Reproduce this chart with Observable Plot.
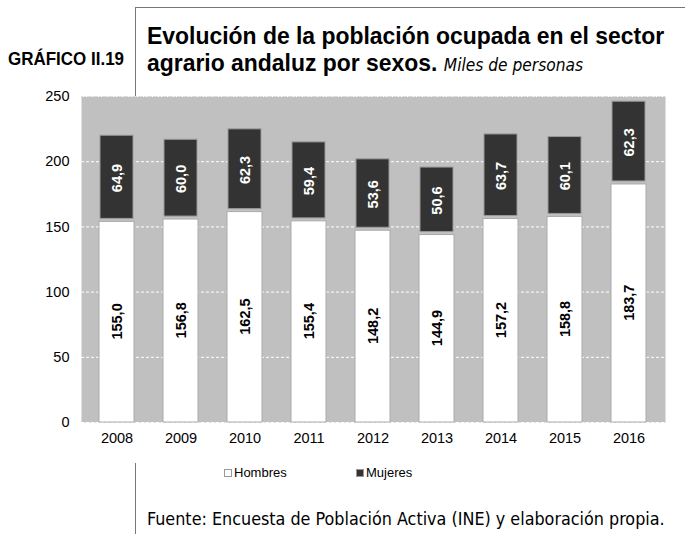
<!DOCTYPE html>
<html><head><meta charset="utf-8">
<script src="https://cdn.jsdelivr.net/npm/d3@7"></script>
<script src="https://cdn.jsdelivr.net/npm/@observablehq/plot@0.6"></script>
<style>
body{margin:0;background:#fff;width:685px;height:534px;position:relative;overflow:hidden;font-family:"Liberation Sans",Arial,sans-serif;}
#frameTop{position:absolute;left:135px;top:7px;width:560px;height:90px;border-left:1.3px solid #777;border-top:1.3px solid #777;}
#frameBot{position:absolute;left:135px;top:463px;height:71px;border-left:1.3px solid #777;}
#label{position:absolute;left:8px;top:49px;font-weight:bold;font-size:17.5px;white-space:nowrap;transform:scaleX(0.97);transform-origin:left top;}
#title{position:absolute;left:147px;top:22px;font-weight:bold;font-size:24px;line-height:27px;white-space:nowrap;color:#000;transform:scaleX(0.955);transform-origin:left top;}
#title i{font-weight:normal;font-family:"DejaVu Sans Condensed","DejaVu Sans",sans-serif;font-size:18px;}
#chart{position:absolute;left:0;top:0;}
#legend{position:absolute;top:465px;left:0;width:685px;height:18px;font-size:13px;}
#legend .item{position:absolute;display:flex;align-items:center;}
#legend .sw{display:inline-block;width:8px;height:8px;margin-right:2px;box-sizing:border-box;}
#caption{position:absolute;left:147px;top:508px;font-family:"DejaVu Sans Condensed","DejaVu Sans",sans-serif;font-size:17.8px;white-space:nowrap;}
</style></head>
<body>
<div id="frameTop"></div>
<div id="frameBot"></div>
<div id="label">GRÁFICO II.19</div>
<div id="title">Evolución de la población ocupada en el sector<br>agrario andaluz por sexos. <i>Miles de personas</i></div>
<div id="chart"></div>
<div id="legend">
  <div class="item" style="left:224px"><span class="sw" style="background:#fff;border:1px solid #999"></span>Hombres</div>
  <div class="item" style="left:356px"><span class="sw" style="background:#333;border:1px solid #999"></span>Mujeres</div>
</div>
<div id="caption">Fuente: Encuesta de Población Activa (INE) y elaboración propia.</div>
<script>
const years = ["2008","2009","2010","2011","2012","2013","2014","2015","2016"];
const hombres = [155.0,156.8,162.5,155.4,148.2,144.9,157.2,158.8,183.7];
const mujeres = [64.9,60.0,62.3,59.4,53.6,50.6,63.7,60.1,62.3];
const yTicks = [0,50,100,150,200,250];

const fmt = v => v.toFixed(1).replace(".", ",");
const rows = years.map((y,i)=>({year:y, h:hombres[i], m:mujeres[i]}));

const chart = Plot.plot({
  width: 685,
  height: 455,
  marginTop: 96,
  marginBottom: 33,
  marginLeft: 81,
  marginRight: 20,
  style:{fontFamily:"Liberation Sans, Arial, sans-serif", fontSize:"14px", background:"transparent", color:"#000"},
  x:{domain:years, paddingInner:0.48, paddingOuter:0.24, label:null},
  y:{domain:[0,250], ticks:yTicks, label:null},
  marks:[
    Plot.frame({fill:"#c0c0c0", stroke:null}),
    Plot.gridY(yTicks, {stroke:"#fff", strokeOpacity:1, strokeDasharray:"3,2", strokeWidth:1}),
    Plot.ruleY([250], {stroke:"#ddd", strokeDasharray:"2,1"}),
    Plot.barY(rows, {x:"year", y1:0, y2:"h", fill:"#fff", stroke:"#aaa", strokeWidth:1, insetTop:1.5, insetLeft:-1, insetRight:-1}),
    Plot.barY(rows, {x:"year", y1:"h", y2:d=>d.h+d.m, fill:"#333", stroke:"#999", strokeWidth:1, insetBottom:1.5}),
    Plot.text(rows, {x:"year", y:d=>d.h/2, text:d=>fmt(d.h), rotate:-90, fill:"#000", fontWeight:"bold", fontSize:14.5}),
    Plot.text(rows, {x:"year", y:d=>d.h+d.m/2, text:d=>fmt(d.m), rotate:-90, fill:"#fff", fontWeight:"bold", fontSize:14.5}),
    Plot.axisX({tickSize:0, tickPadding:10, fontSize:14.5}),
    Plot.axisY({ticks:yTicks, tickSize:0, tickPadding:12, fontSize:14.5})
  ]
});
document.getElementById("chart").appendChild(chart);
</script>
</body></html>
